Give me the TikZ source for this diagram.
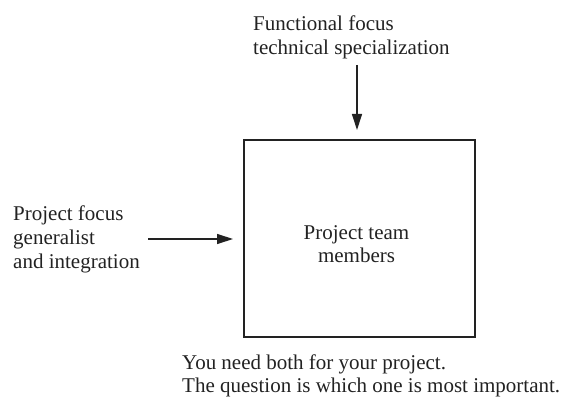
\documentclass[tikz,border=0pt]{standalone}
\usepackage{fontspec}
\setmainfont{Liberation Serif}
\usetikzlibrary{arrows.meta}
\definecolor{ink}{HTML}{222222}
\begin{document}
\begin{tikzpicture}[x=1pt,y=1pt,
  lbl/.style={inner sep=0pt, align=left, text=ink, font=\fontsize{21}{24}\selectfont},
  clbl/.style={inner sep=0pt, align=center, text=ink, font=\fontsize{21}{23.5}\selectfont},
  conn/.style={draw=ink, line width=1.3pt, -{Triangle[length=16pt,width=10pt]}}]
\useasboundingbox (0,0) rectangle (563,402);
\node[draw=ink, line width=1.5pt, minimum width=231pt, minimum height=197pt, inner sep=0pt] (box) at (359.5,163.5) {};
\node[clbl, anchor=base] (team) at (356.5,139) {Project team\\members};
\node[lbl, anchor=base west] (func) at (253,347) {Functional focus\\technical specialization};
\node[lbl, anchor=base west] (proj) at (13,133) {Project focus\\generalist\\and integration};
\node[lbl, anchor=base west] (note) at (182,9) {You need both for your project.\\The question is which one is most important.};
\coordinate (ts) at (357,337);
\coordinate (te) at (357,272);
\coordinate (ls) at (148,163);
\coordinate (le) at (233,163);
\draw[conn] (ts) -- (te);
\draw[conn] (ls) -- (le);
\end{tikzpicture}
\end{document}
